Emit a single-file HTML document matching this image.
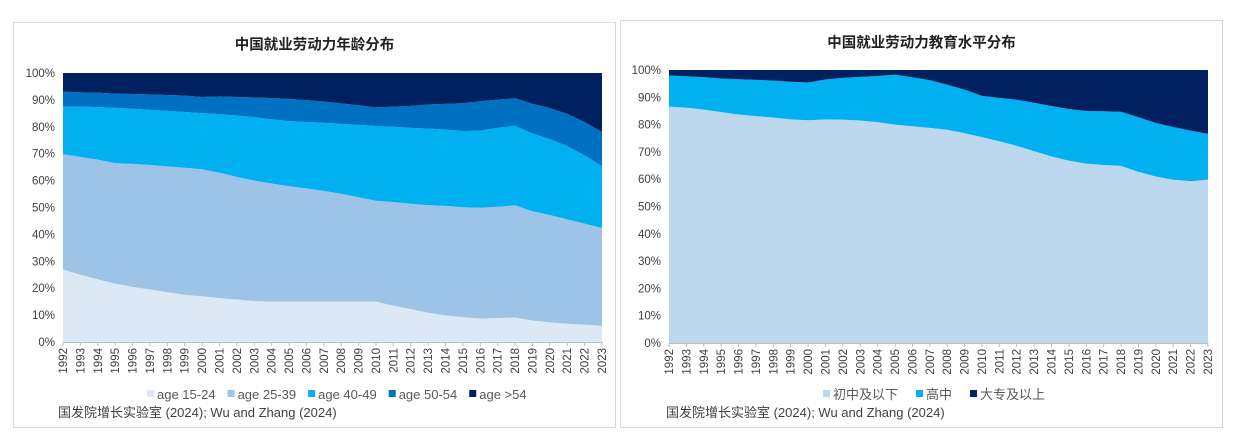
<!DOCTYPE html>
<html><head><meta charset="utf-8">
<style>
body{margin:0;width:1238px;height:446px;background:#fff;overflow:hidden;font-family:"Liberation Sans","Noto Sans CJK SC",sans-serif;}
svg{position:absolute;left:0;top:0}
</style></head>
<body>
<svg id="c" width="1238" height="446"></svg>
<script>
const years=[];for(let y=1992;y<=2023;y++)years.push(String(y));
const age1524=[27,25,23.3,21.7,20.5,19.5,18.5,17.5,17,16.3,15.8,15.2,15,15,15,15,15,15,15,13.5,12.2,10.9,9.9,9.2,8.7,8.9,9.1,8,7.3,6.8,6.4,6];
const age2539=[42.8,43.8,44.5,44.8,45.7,46.3,46.8,47.3,47.2,46.6,45.6,44.8,43.9,42.9,42.1,41.2,40.1,38.8,37.5,38.5,39.2,40,40.7,40.9,41.2,41.4,41.7,40.6,39.9,38.8,37.6,36.4];
const age4049=[17.7,18.7,19.5,20.6,20.5,20.5,20.6,20.7,20.9,21.8,22.8,23.6,23.9,24.2,24.7,25.3,26,26.9,27.8,28,28.2,28.4,28.4,28.3,28.7,29.3,29.6,28.9,28.2,27.2,25.4,23.0];
const age5054=[5.6,5.3,5.4,5.2,5.5,5.7,5.9,6.1,6.0,6.6,6.9,7.3,7.9,8.3,8.1,7.9,7.6,7.3,6.9,7.5,8.2,9.0,9.5,10.4,10.9,10.5,10.2,11.0,11.6,12.0,12.4,12.6];
const eduLow=[86.6,86.2,85.5,84.6,83.7,83.1,82.6,81.9,81.6,81.9,81.8,81.5,80.9,80,79.4,78.8,78.1,76.9,75.4,73.9,72.2,70.3,68.3,66.8,65.7,65.2,64.9,62.7,61,59.8,59.3,59.8];
const eduHigh=[11.4,11.5,11.9,12.3,12.9,13.3,13.5,13.8,13.8,14.6,15.3,16,16.9,18.3,17.9,17.5,16.5,15.9,15.1,15.9,16.9,17.7,18.5,18.9,19.3,19.7,19.8,20,19.6,19.3,18.5,16.8];
const yTicks=[0,10,20,30,40,50,60,70,80,90,100];
const ageNames=["age 15-24","age 25-39","age 40-49","age 50-54","age >54"];
const eduNames=["初中及以下","高中","大专及以上"];

const NS="http://www.w3.org/2000/svg";
const svg=document.getElementById('c');
function mk(t,a,p){const e=document.createElementNS(NS,t);for(const k in a)e.setAttribute(k,a[k]);(p||svg).appendChild(e);return e;}

function chart(o){
  const g=mk('g',{});
  
  
  const fr=mk('rect',{x:o.bx,y:o.by,width:o.bw,height:o.bh,fill:'#fff',stroke:'#d9d9d9','stroke-width':1},g);
  
  
  const t=mk('text',{x:o.bx+o.bw/2,y:o.by+27,'text-anchor':'middle','font-size':14.5,'font-weight':'bold',fill:'#222'},g);
  t.textContent=o.title;
  
  
  const n=years.length;
  const xs=i=>o.x0+(o.x1-o.x0)*i/(n-1);
  const ys=v=>o.y0-(o.y0-o.y1)*v/100;
  let base=new Array(n).fill(0);
  o.series.forEach((s,k)=>{
    const top=s.map((v,i)=>base[i]+v);
    let d='M'+xs(0)+','+ys(top[0]);
    for(let i=1;i<n;i++)d+=' L'+xs(i)+','+ys(top[i]);
    for(let i=n-1;i>=0;i--)d+=' L'+xs(i)+','+ys(base[i]);
    const p=mk('path',{d:d+'Z',fill:o.colors[k]},g);
    
    
    base=top;
  });
  let d=`M${xs(0)},${ys(100)} L${xs(n-1)},${ys(100)}`;
  for(let i=n-1;i>=0;i--)d+=` L${xs(i)},${ys(base[i])}`;
  const r=mk('path',{d:d+'Z',fill:o.colors[o.colors.length-1]},g);
  
  
  yTicks.forEach(v=>{
    const l=mk('text',{x:o.x0-8,y:ys(v)+4,'text-anchor':'end','font-size':11.5,fill:'#404040'},g);
    l.textContent=v+'%';
    
    
  });
  const ax=mk('line',{x1:o.x0,x2:o.x1,y1:o.y0+.5,y2:o.y0+.5,stroke:'#bfbfbf'},g);
  
  
  years.forEach((y,i)=>{
    mk('line',{x1:xs(i),x2:xs(i),y1:o.y0,y2:o.y0+4,stroke:'#bfbfbf'},g);
    const l=mk('text',{transform:`translate(${xs(i)+4},${o.y0+6}) rotate(-90)`,'text-anchor':'end','font-size':11.5,fill:'#404040'},g);
    l.textContent=y;
    
    
  });
  let lx=o.lx;
  o.names.forEach((nm,k)=>{
    const sq=mk('rect',{x:lx,y:o.ly-9,width:7,height:7,fill:o.colors[k]},g);
    
    
    const l=mk('text',{x:lx+10,y:o.ly,'font-size':13,fill:'#595959'},g);
    l.textContent=nm;
    
    
    lx+=10+l.getComputedTextLength()+o.gap;
  });
  const s=mk('text',{x:o.sx,y:417,'font-size':13,fill:'#404040'},g);
  s.textContent='国发院增长实验室 (2024); Wu and Zhang (2024)';
  
  
}
chart({name:'age-distribution-chart',title:'中国就业劳动力年龄分布',bx:13.5,by:22.5,bw:602,bh:405,x0:63,x1:602,y0:342,y1:73,
  series:[age1524,age2539,age4049,age5054],keys:['age-15-24','age-25-39','age-40-49','age-50-54','age-over-54'],
  colors:['#dde8f5','#9dc3e6','#00b0f0','#0070c0','#002060'],names:ageNames,lx:147,ly:399,gap:12,sx:58});
chart({name:'education-distribution-chart',title:'中国就业劳动力教育水平分布',bx:620.5,by:20.5,bw:602,bh:407,x0:669,x1:1208,y0:343,y1:70,
  series:[eduLow,eduHigh],keys:['junior-high-or-below','high-school','college-or-above'],
  colors:['#bdd7ee','#00b0f0','#002060'],names:eduNames,lx:823,ly:399,gap:18,sx:666});
</script>
</body></html>
